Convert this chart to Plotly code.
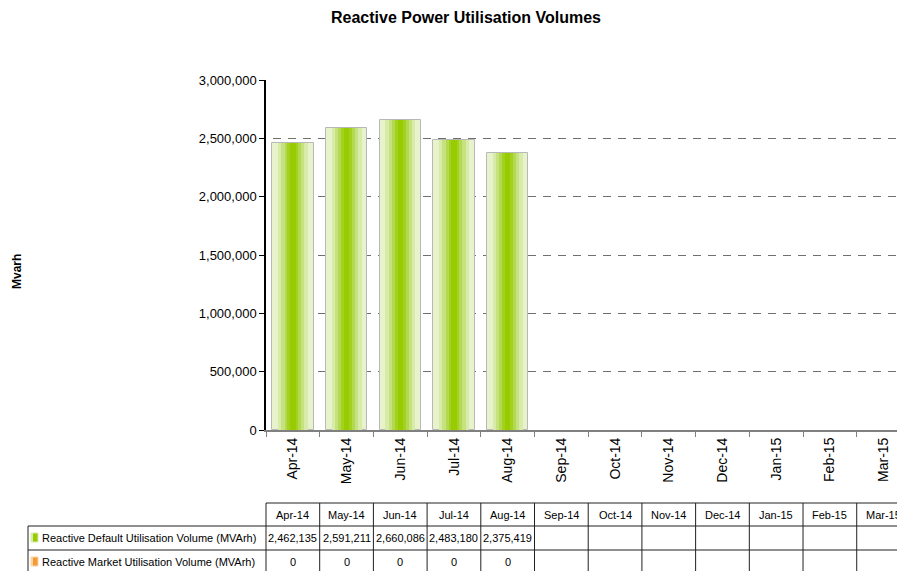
import plotly.graph_objects as go

months = ['Apr-14', 'May-14', 'Jun-14', 'Jul-14', 'Aug-14', 'Sep-14',
          'Oct-14', 'Nov-14', 'Dec-14', 'Jan-15', 'Feb-15', 'Mar-15']
default_volume = [2462135, 2591211, 2660086, 2483180, 2375419,
                  None, None, None, None, None, None, None]
market_volume = [0, 0, 0, 0, 0, None, None, None, None, None, None, None]
series_names = ['Reactive Default Utilisation Volume (MVArh)',
                'Reactive Market Utilisation Volume (MVArh)']
y_ticks = [0, 500000, 1000000, 1500000, 2000000, 2500000, 3000000]

FONT = 'Arial, Liberation Sans, sans-serif'
W, H = 897, 571
L, T, B = 266, 80, 141
x_range = [-0.5, 11.25]
n_span = x_range[1] - x_range[0]
plot_w = W - L
plot_h = H - T - B


def px_y(py):
    """pixel row -> paper y"""
    return (H - B - py) / plot_h


def px_x(px):
    return (px - L) / plot_w


def bound_x(k):
    """paper x of the k-th category boundary"""
    return k / n_span


fig = go.Figure()

# fake the horizontal gradient with narrowing overlaid bars
layers = [(0.77, '#e8f3cc'), (0.56, '#d9ebaa'), (0.43, '#c6e27e'),
          (0.31, '#b2d94f'), (0.2, '#a3d122'), (0.1, '#99cc00')]
for i, (w, c) in enumerate(layers):
    fig.add_trace(go.Bar(
        x=months, y=default_volume, width=w,
        marker=dict(color=c,
                    line=dict(color='#b8b8b8' if i == 0 else c, width=1 if i == 0 else 0)),
        showlegend=False, hoverinfo='skip' if i else None,
        name=series_names[0]
    ))

fig.update_layout(
    width=W, height=H,
    margin=dict(l=L, r=0, t=T, b=B),
    paper_bgcolor='white', plot_bgcolor='white',
    barmode='overlay', bargap=0,
    font=dict(family=FONT, color='black'),
    title=dict(text='<b>Reactive Power Utilisation Volumes</b>',
               x=466 / W, xanchor='center', y=1 - 17 / H, yanchor='middle',
               font=dict(size=16, family=FONT)),
    showlegend=False,
)

fig.update_xaxes(
    range=x_range, type='category', categoryorder='array', categoryarray=months,
    tickangle=-90, tickfont=dict(size=14), tickson='boundaries',
    ticks='outside', ticklen=5, tickcolor='#808080',
    showline=True, linecolor='#808080', linewidth=2,
    showgrid=False, fixedrange=True,
)
fig.update_yaxes(
    range=[0, 3000000], tickvals=y_ticks, tickformat=',d',
    tickfont=dict(size=13), ticks='outside', ticklen=5, tickcolor='black',
    showline=True, linecolor='black', linewidth=1.5,
    showgrid=True, gridcolor='#707070', griddash='0px,7px,8px,0px', gridwidth=1,
    zeroline=False, fixedrange=True,
)

# y axis title
fig.add_annotation(text='<b>Mvarh</b>', xref='paper', yref='paper',
                   x=px_x(17), y=px_y(272), xanchor='center', yanchor='middle',
                   textangle=-90, showarrow=False, font=dict(size=12))

# ---- data table under the chart ----
line_col = '#202020'
hdr_top, row1_top, row2_top, tbl_bot = 503, 526, 550, 575
shapes = []
# horizontal lines
shapes.append(dict(type='line', xref='paper', yref='paper',
                   x0=0, x1=1.05, y0=px_y(hdr_top), y1=px_y(hdr_top)))
for py in (row1_top, row2_top):
    shapes.append(dict(type='line', xref='paper', yref='paper',
                       x0=px_x(28), x1=1.05, y0=px_y(py), y1=px_y(py)))
# legend column left edge
shapes.append(dict(type='line', xref='paper', yref='paper',
                   x0=px_x(28), x1=px_x(28), y0=px_y(row1_top), y1=px_y(tbl_bot)))
# column boundaries
for k in range(len(months) + 1):
    shapes.append(dict(type='line', xref='paper', yref='paper',
                       x0=bound_x(k), x1=bound_x(k), y0=px_y(hdr_top), y1=px_y(tbl_bot)))
for s in shapes:
    s['line'] = dict(color=line_col, width=1)

# legend keys (light left edge, solid right part)
for top, light, solid in [(533, '#d8ecb0', '#99cc00'), (557, '#fbd6a8', '#f59a35')]:
    shapes.append(dict(type='rect', xref='paper', yref='paper',
                       x0=px_x(31), x1=px_x(38), y0=px_y(top), y1=px_y(top + 9),
                       fillcolor=solid, line=dict(color=light, width=1)))
    shapes.append(dict(type='rect', xref='paper', yref='paper',
                       x0=px_x(31), x1=px_x(33), y0=px_y(top), y1=px_y(top + 9),
                       fillcolor=light, line=dict(width=0)))
fig.update_layout(shapes=shapes)

annots = []
for k, m in enumerate(months):
    cx = (bound_x(k) + bound_x(k + 1)) / 2
    annots.append(dict(text=m, x=cx, y=px_y((hdr_top + row1_top) / 2)))
    if default_volume[k] is not None:
        annots.append(dict(text=f'{default_volume[k]:,}', x=cx,
                           y=px_y((row1_top + row2_top) / 2)))
    if market_volume[k] is not None:
        annots.append(dict(text=f'{market_volume[k]:,}', x=cx,
                           y=px_y((row2_top + tbl_bot) / 2 - 1)))
for a in annots:
    fig.add_annotation(xref='paper', yref='paper', xanchor='center', yanchor='middle',
                       showarrow=False, font=dict(size=11), **a)
for name, py in zip(series_names, [(row1_top + row2_top) / 2, (row2_top + tbl_bot) / 2 - 1]):
    fig.add_annotation(text=name, xref='paper', yref='paper', x=px_x(40), y=px_y(py),
                       xanchor='left', yanchor='middle', showarrow=False,
                       font=dict(size=11))

# drop the default body margin so the figure sits at the window's corner
fig.write_html('out.html', config={'displayModeBar': False},
               post_script="document.body.style.margin='0';document.body.style.overflow='hidden';")
